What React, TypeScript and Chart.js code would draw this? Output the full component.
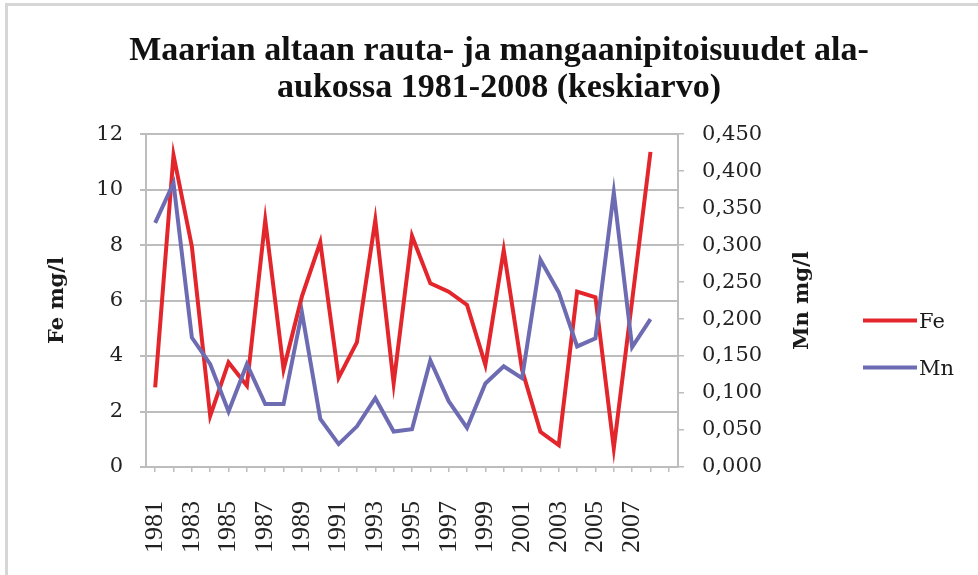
import React, { useEffect, useRef } from 'react';
import { Chart, registerables } from 'chart.js';

Chart.register(...registerables);

// ---- Data ----
const TITLE_LINES = ['Maarian altaan rauta- ja mangaanipitoisuudet ala-', 'aukossa 1981-2008 (keskiarvo)'];
const FE_AXIS_TITLE = 'Fe mg/l';
const MN_AXIS_TITLE = 'Mn mg/l';

const YEARS = [
  '1981', '1982', '1983', '1984', '1985', '1986', '1987', '1988', '1989', '1990',
  '1991', '1992', '1993', '1994', '1995', '1996', '1997', '1998', '1999', '2000',
  '2001', '2002', '2003', '2004', '2005', '2006', '2007', '2008',
];

const FE_LABEL = 'Fe';
const FE_VALUES = [
  2.87, 11.24, 7.95, 1.84, 3.77, 2.93, 8.9, 3.52, 6.15, 8.1,
  3.22, 4.5, 8.9, 3.02, 8.33, 6.62, 6.32, 5.84, 3.68, 7.82,
  3.5, 1.27, 0.79, 6.32, 6.12, 0.68, 6.0, 11.36,
];

const MN_LABEL = 'Mn';
const MN_VALUES = [
  0.33, 0.384, 0.175, 0.139, 0.075, 0.139, 0.085, 0.085, 0.209, 0.065,
  0.031, 0.055, 0.093, 0.048, 0.051, 0.144, 0.089, 0.053, 0.113, 0.136,
  0.12, 0.28, 0.236, 0.163, 0.174, 0.371, 0.162, 0.2,
];

const FE_AXIS = { min: 0, max: 12, step: 2 };
const MN_AXIS = { min: 0, max: 0.45, step: 0.05 };

// ---- Styles ----
const FE_COLOR = '#e2262c';
const MN_COLOR = '#6d6cb3';
const GRID_COLOR = '#bdbdbd';
const TEXT_COLOR = '#1a1a1a';
const TICK_COLOR = '#222222';

const extrasPlugin = {
  id: 'extras',
  afterDraw(chart: any) {
    const { ctx, chartArea } = chart;
    const cy = (chartArea.top + chartArea.bottom) / 2;
    // right axis title (reads bottom-to-top like the reference)
    ctx.save();
    ctx.font = 'bold 21px "DejaVu Serif"';
    ctx.fillStyle = TEXT_COLOR;
    ctx.textAlign = 'center';
    ctx.textBaseline = 'middle';
    ctx.translate(chartArea.right + 125, cy);
    ctx.rotate(-Math.PI / 2);
    ctx.fillText(MN_AXIS_TITLE, 0, 0);
    ctx.restore();

    // legend
    ctx.save();
    const lx = chartArea.right + 185;
    chart.data.datasets.forEach((ds: any, i: number) => {
      const y = cy + 20 + i * 47;
      ctx.strokeStyle = ds.borderColor;
      ctx.lineWidth = 4;
      ctx.beginPath();
      ctx.moveTo(lx, y);
      ctx.lineTo(lx + 54, y);
      ctx.stroke();
      ctx.font = '21px "DejaVu Serif"';
      ctx.fillStyle = TEXT_COLOR;
      ctx.textAlign = 'left';
      ctx.textBaseline = 'middle';
      ctx.fillText(ds.label, lx + 56, y + 2);
    });
    ctx.restore();
  },
};

export default function App() {
  const canvasRef = useRef<HTMLCanvasElement | null>(null);

  useEffect(() => {
    if (!canvasRef.current) return;
    // one trailing empty category slot, as in the reference axis
    const labels = [...YEARS, ''];
    const chart = new Chart(canvasRef.current, {
      type: 'line',
      data: {
        labels,
        datasets: [
          {
            label: FE_LABEL,
            data: FE_VALUES,
            yAxisID: 'y',
            borderColor: FE_COLOR,
            backgroundColor: FE_COLOR,
            borderWidth: 4,
            pointRadius: 0,
            tension: 0,
            order: 1,
          },
          {
            label: MN_LABEL,
            data: MN_VALUES,
            yAxisID: 'y1',
            borderColor: MN_COLOR,
            backgroundColor: MN_COLOR,
            borderWidth: 4,
            pointRadius: 0,
            tension: 0,
            order: 0,
          },
        ],
      },
      options: {
        responsive: false,
        animation: false,
        devicePixelRatio: 1,
        layout: { padding: { left: 20, right: 0, top: 0, bottom: 0 } },
        plugins: {
          legend: { display: false },
          tooltip: { enabled: false },
          title: {
            display: true,
            text: TITLE_LINES,
            color: '#111',
            font: { family: '"Liberation Serif"', size: 34, weight: 'bold', lineHeight: 1.09 },
            padding: { top: 33, bottom: 27 },
          },
        },
        scales: {
          x: {
            type: 'category',
            offset: true,
            afterFit: (s: any) => { s.height = 108; },
            grid: {
              drawOnChartArea: false,
              drawTicks: true,
              tickLength: 5,
              color: GRID_COLOR,
              lineWidth: 1.5,
            },
            border: { display: true, color: GRID_COLOR, width: 2 },
            ticks: {
              autoSkip: false,
              minRotation: 90,
              maxRotation: 90,
              padding: 29,
              color: TICK_COLOR,
              font: { family: '"Liberation Serif"', size: 26 },
              callback: (_v: any, i: number) => (i % 2 === 0 ? labels[i] : ''),
            },
          },
          y: {
            position: 'left',
            min: FE_AXIS.min,
            max: FE_AXIS.max,
            afterFit: (s: any) => { s.width = 126; },
            grid: { color: GRID_COLOR, lineWidth: 2, tickLength: 6 },
            border: { display: true, color: GRID_COLOR, width: 2 },
            ticks: {
              stepSize: FE_AXIS.step,
              padding: 17,
              color: TICK_COLOR,
              font: { family: '"DejaVu Serif"', size: 21 },
            },
            title: {
              display: true,
              text: FE_AXIS_TITLE,
              color: TEXT_COLOR,
              font: { family: '"DejaVu Serif"', size: 21, weight: 'bold' },
              padding: { top: 25, bottom: 0 },
            },
          },
          y1: {
            position: 'right',
            min: MN_AXIS.min,
            max: MN_AXIS.max,
            afterFit: (s: any) => { s.width = 300; },
            grid: { drawOnChartArea: false, color: GRID_COLOR, lineWidth: 1.5, tickLength: 6 },
            border: { display: true, color: GRID_COLOR, width: 2 },
            ticks: {
              stepSize: MN_AXIS.step,
              padding: 18,
              color: TICK_COLOR,
              font: { family: '"DejaVu Serif"', size: 21 },
              callback: (v: any) => Number(v).toFixed(3).replace('.', ','),
            },
          },
        },
      },
      plugins: [extrasPlugin],
    } as any);
    return () => chart.destroy();
  }, []);

  return (
    <div style={{ position: 'fixed', left: 0, top: 0, width: 978, height: 575, background: '#fff', overflow: 'hidden' }}>
      <div
        style={{
          position: 'absolute', left: 5, top: 3, right: -10, bottom: -10,
          borderLeft: '3px solid #d6d6d6', borderTop: '3px solid #d6d6d6',
        }}
      />
      <canvas ref={canvasRef} width={978} height={575} style={{ position: 'absolute', left: 0, top: 0 }} />
    </div>
  );
}
